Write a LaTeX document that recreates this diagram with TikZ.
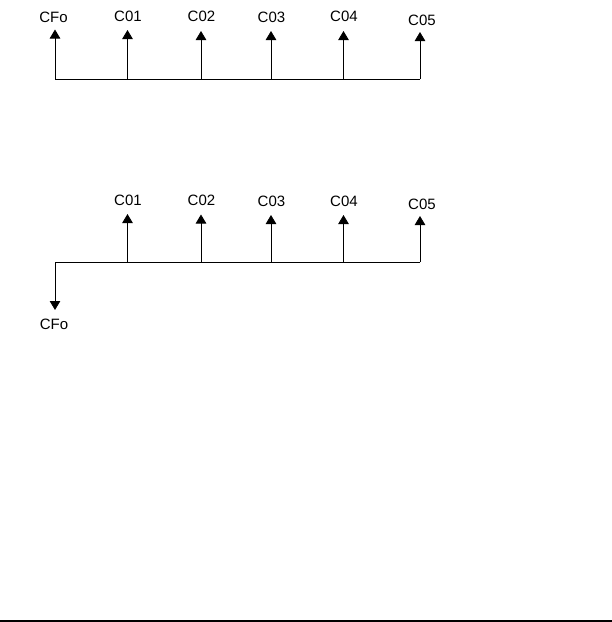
\documentclass[tikz,border=0pt]{standalone}
\usepackage{fontspec}
\setmainfont{Liberation Sans}
\usepackage{tikz}
\usetikzlibrary{arrows.meta,positioning}
\tikzset{
  cfline/.style={line width=0.8pt,draw=black},
  cfarrow/.style={cfline,-{Triangle[length=9pt,width=10.5pt]}},
  cflabel/.style={font=\fontsize{15}{17}\selectfont,inner sep=0pt}
}

\begin{document}
\begin{tikzpicture}[x=1pt,y=-1pt]
    \useasboundingbox (0,0) rectangle (612,622);
    % first time line
    \coordinate (a0) at (55,79);
    \coordinate (a1) at (127.5,79);
    \coordinate (a2) at (201,79);
    \coordinate (a3) at (271,79);
    \coordinate (a4) at (343.5,79);
    \coordinate (a5) at (420,79);
    \coordinate (ta0) at (55,29.5);
    \coordinate (ta1) at (127.5,30);
    \coordinate (ta2) at (201,31);
    \coordinate (ta3) at (271,31);
    \coordinate (ta4) at (343.5,31);
    \coordinate (ta5) at (420,32);
    \node[cflabel] (la0) at (53.5,17.5) {CFo};
    \node[cflabel] (la1) at (128,16) {C01};
    \node[cflabel] (la2) at (201.5,16) {C02};
    \node[cflabel] (la3) at (271.5,17) {C03};
    \node[cflabel] (la4) at (344,16) {C04};
    \node[cflabel] (la5) at (422,20) {C05};
    \draw[cfline] (a0) -- (a5);
    \draw[cfarrow] (a0) -- (ta0);
    \draw[cfarrow] (a1) -- (ta1);
    \draw[cfarrow] (a2) -- (ta2);
    \draw[cfarrow] (a3) -- (ta3);
    \draw[cfarrow] (a4) -- (ta4);
    \draw[cfarrow] (a5) -- (ta5);
    % second time line
    \coordinate (b0) at (55,262);
    \coordinate (b1) at (127.5,262);
    \coordinate (b2) at (201,262);
    \coordinate (b3) at (271,262);
    \coordinate (b4) at (343.5,262);
    \coordinate (b5) at (420,262);
    \coordinate (tb0) at (55,310);
    \coordinate (tb1) at (127.5,214);
    \coordinate (tb2) at (201,214.5);
    \coordinate (tb3) at (271,215);
    \coordinate (tb4) at (343.5,215);
    \coordinate (tb5) at (420,216);
    \node[cflabel] (lb0) at (54,324) {CFo};
    \node[cflabel] (lb1) at (128,200) {C01};
    \node[cflabel] (lb2) at (201.5,200) {C02};
    \node[cflabel] (lb3) at (271.5,201) {C03};
    \node[cflabel] (lb4) at (344,201) {C04};
    \node[cflabel] (lb5) at (422,204.5) {C05};
    \draw[cfline] (b0) -- (b5);
    \draw[cfarrow] (b0) -- (tb0);
    \draw[cfarrow] (b1) -- (tb1);
    \draw[cfarrow] (b2) -- (tb2);
    \draw[cfarrow] (b3) -- (tb3);
    \draw[cfarrow] (b4) -- (tb4);
    \draw[cfarrow] (b5) -- (tb5);
    % rule at the foot
    \coordinate (r0) at (0,621);
    \coordinate (r1) at (612,621);
    \draw[line width=1.6pt] (r0) -- (r1);
\end{tikzpicture}
\end{document}
